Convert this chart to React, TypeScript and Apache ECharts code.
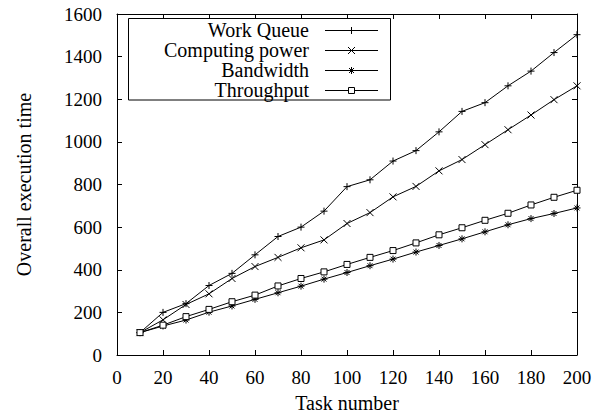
import React, { useEffect, useRef } from "react";
import * as echarts from "echarts";

const taskNumbers = [10, 20, 30, 40, 50, 60, 70, 80, 90, 100, 110, 120, 130, 140, 150, 160, 170, 180, 190, 200];
const workQueue = [105, 200, 241, 326, 383, 470, 556, 600, 675, 790, 822, 910, 959, 1047, 1143, 1184, 1263, 1332, 1419, 1503];
const computingPower = [105, 165, 237, 287, 359, 415, 458, 503, 540, 617, 668, 742, 791, 864, 917, 987, 1057, 1126, 1198, 1263];
const bandwidth = [105, 136, 164, 201, 230, 261, 292, 323, 356, 387, 419, 450, 483, 514, 545, 578, 611, 640, 664, 690];
const throughput = [105, 140, 180, 214, 250, 281, 324, 359, 390, 425, 458, 490, 526, 564, 597, 632, 665, 704, 740, 773];
const seriesNames = ["Work Queue", "Computing power", "Bandwidth", "Throughput"];
const xTickLabels = [0, 20, 40, 60, 80, 100, 120, 140, 160, 180, 200];
const yTickLabels = [0, 200, 400, 600, 800, 1000, 1200, 1400, 1600];

const FONT = "Liberation Serif";

const SYM_PLUS = "path://M5,0 L5,10 M0,5 L10,5";
const SYM_CROSS = "path://M0,0 L10,10 M0,10 L10,0";
const SYM_STAR = "path://M5,0 L5,10 M0,5 L10,5 M1.5,1.5 L8.5,8.5 M1.5,8.5 L8.5,1.5";
const SYM_SQUARE = "path://M0,0 L10,0 L10,10 L0,10 Z";

const symbols = [SYM_PLUS, SYM_CROSS, SYM_STAR, SYM_SQUARE];
const symbolSizes = [7, 7, 7, 6];
const seriesValues = [workQueue, computingPower, bandwidth, throughput];

function legendGraphic() {
  const els: any[] = [];
  els.push({
    type: "rect",
    shape: { x: 128.5, y: 18.5, width: 262, height: 81.5 },
    style: { fill: "#fff", stroke: "#000", lineWidth: 1 },
    z: 100,
  });
  const rowY = [30, 50, 70, 90];
  const lx1 = 325, lx2 = 378, sx = 351.5;
  seriesNames.forEach((name, i) => {
    const y = rowY[i] + 0.5;
    els.push({
      type: "text",
      x: 309,
      y: rowY[i],
      style: { text: name, fontSize: 20, fontFamily: FONT, fill: "#000", align: "right", verticalAlign: "middle" },
      z: 101,
    });
    els.push({ type: "line", shape: { x1: lx1, y1: y, x2: lx2, y2: y }, style: { stroke: "#000", lineWidth: 1 }, z: 101 });
    const h = 3.5;
    const addLine = (x1: number, y1: number, x2: number, y2: number) =>
      els.push({ type: "line", shape: { x1, y1, x2, y2 }, style: { stroke: "#000", lineWidth: 1 }, z: 102 });
    if (i === 0) {
      addLine(sx - h, y, sx + h, y);
      addLine(sx, y - h, sx, y + h);
    } else if (i === 1) {
      addLine(sx - h, y - h, sx + h, y + h);
      addLine(sx - h, y + h, sx + h, y - h);
    } else if (i === 2) {
      addLine(sx - h, y, sx + h, y);
      addLine(sx, y - h, sx, y + h);
      addLine(sx - 2.5, y - 2.5, sx + 2.5, y + 2.5);
      addLine(sx - 2.5, y + 2.5, sx + 2.5, y - 2.5);
    } else {
      els.push({
        type: "rect",
        shape: { x: sx - 3, y: y - 3, width: 6, height: 6 },
        style: { fill: "#fff", stroke: "#000", lineWidth: 1 },
        z: 102,
      });
    }
  });
  return els;
}

export default function App() {
  const ref = useRef<HTMLDivElement>(null);
  useEffect(() => {
    if (!ref.current) return;
    const chart = echarts.init(ref.current, undefined, { renderer: "svg" });
    const axisLine = { show: true, onZero: false, lineStyle: { color: "#000", width: 1 } };
    const tick = { show: true, inside: true, length: 5, lineStyle: { color: "#000" } };
    const option: any = {
      animation: false,
      backgroundColor: "#fff",
      textStyle: { fontFamily: FONT },
      grid: { left: 117, right: 37, top: 14, bottom: 62 },
      xAxis: [
        {
          type: "value",
          min: 0,
          max: 200,
          interval: 20,
          position: "bottom",
          name: "Task number",
          nameLocation: "middle",
          nameGap: 38,
          nameTextStyle: { fontSize: 20, fontFamily: FONT, color: "#000" },
          axisLine,
          axisTick: tick,
          axisLabel: { show: false },
          splitLine: { show: false },
        },
        {
          type: "value",
          min: 0,
          max: 200,
          interval: 20,
          position: "top",
          axisLine,
          axisTick: tick,
          axisLabel: { show: false },
          splitLine: { show: false },
        },
      ],
      yAxis: [
        {
          type: "value",
          min: 0,
          max: 1600,
          interval: 200,
          position: "left",
          name: "Overall execution time",
          nameLocation: "middle",
          nameGap: 83,
          nameRotate: 90,
          nameTextStyle: { fontSize: 20, fontFamily: FONT, color: "#000" },
          axisLine,
          axisTick: tick,
          axisLabel: { show: false },
          splitLine: { show: false },
        },
        {
          type: "value",
          min: 0,
          max: 1600,
          interval: 200,
          position: "right",
          axisLine,
          axisTick: tick,
          axisLabel: { show: false },
          splitLine: { show: false },
        },
      ],
      series: seriesNames.map((name, i) => ({
        name,
        type: "line",
        xAxisIndex: 0,
        yAxisIndex: 0,
        data: taskNumbers.map((t, j) => [t, seriesValues[i][j]]),
        symbol: symbols[i],
        symbolSize: symbolSizes[i],
        showAllSymbol: true,
        itemStyle: { color: i === 3 ? "#fff" : "#000", borderColor: "#000", borderWidth: 1 },
        lineStyle: { color: "#000", width: 1 },
        emphasis: { disabled: true },
      })),
      graphic: legendGraphic(),
    };
    chart.setOption(option);

    // Tick labels placed through the axes' own scales (serif font)
    const x0 = chart.convertToPixel({ yAxisIndex: 0 }, 0) as number;
    const yAxisX = chart.convertToPixel({ xAxisIndex: 0 }, 0) as number;
    const tickTexts: any[] = [];
    xTickLabels.forEach((v) => {
      tickTexts.push({
        type: "text",
        x: chart.convertToPixel({ xAxisIndex: 0 }, v) as number,
        y: x0 + 13,
        style: { text: String(v), fontSize: 19, fontFamily: FONT, fill: "#000", align: "center", verticalAlign: "top" },
        silent: true,
      });
    });
    yTickLabels.forEach((v) => {
      tickTexts.push({
        type: "text",
        x: yAxisX - 15,
        y: chart.convertToPixel({ yAxisIndex: 0 }, v) as number,
        style: { text: String(v), fontSize: 19, fontFamily: FONT, fill: "#000", align: "right", verticalAlign: "middle" },
        silent: true,
      });
    });
    chart.setOption({ graphic: [...legendGraphic(), ...tickTexts] }, { replaceMerge: ["graphic"] });
    return () => chart.dispose();
  }, []);
  return (
    <div
      ref={ref}
      style={{ position: "fixed", left: 0, top: 0, width: 614, height: 418, background: "#fff" }}
    />
  );
}
